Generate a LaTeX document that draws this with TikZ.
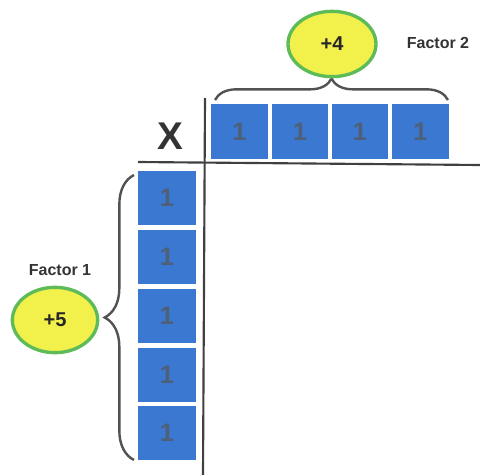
\documentclass[tikz,border=0pt]{standalone}
\usepackage{fontspec}
\setmainfont{Liberation Sans}
\usetikzlibrary{decorations.pathreplacing,shapes.geometric}
\definecolor{tileblue}{HTML}{3B78D2}
\definecolor{tiletext}{HTML}{4E5F78}
\definecolor{ellfill}{HTML}{F2F04A}
\definecolor{ellline}{HTML}{5DBB5A}
\definecolor{inkgray}{HTML}{333333}
\begin{document}
\begin{tikzpicture}[x=0.75pt,y=-0.75pt,
  tile/.style={fill=tileblue,draw=none,minimum width=42.5pt,minimum height=41pt,inner sep=0pt,
    font=\bfseries\fontsize{19}{19}\selectfont,text=tiletext},
  vtile/.style={tile,minimum width=43pt,minimum height=40.5pt},
  oval/.style={ellipse,fill=ellfill,draw=ellline,line width=2.5pt,inner sep=0pt,
    font=\bfseries\fontsize{15}{15}\selectfont,text=black!85},
  lab/.style={font=\bfseries\fontsize{12}{12}\selectfont,text=inkgray},
  axis/.style={draw=gray!50!black,line width=1.6pt},
  br/.style={draw=inkgray!85,line width=1.8pt,decorate}]
\useasboundingbox (0,0) rectangle (480,475);
% axes
\coordinate (hl) at (138,162);
\coordinate (hr) at (480,165);
\coordinate (vt) at (205,98);
\coordinate (vb) at (203,475);
\draw[axis] (hl) -- (hr);
\draw[axis] (vt) -- (vb);
% top tiles
\node[tile] (t1) at (239.5,131.5) {1};
\node[tile] (t2) at (300,131.5) {1};
\node[tile] (t3) at (360,131.5) {1};
\node[tile] (t4) at (420.5,131.5) {1};
% left tiles
\node[vtile] (l1) at (167,198) {1};
\node[vtile] (l2) at (167,257) {1};
\node[vtile] (l3) at (167,315.5) {1};
\node[vtile] (l4) at (167,374.5) {1};
\node[vtile] (l5) at (167,432.5) {1};
% braces
\coordinate (tb1) at (215,100);
\coordinate (tb2) at (448,100);
\draw[br,decoration={brace,amplitude=16pt}] (tb1) -- (tb2);
\coordinate (lb1) at (134,460);
\coordinate (lb2) at (134,175);
\draw[br,decoration={brace,amplitude=22pt}] (lb1) -- (lb2);
% ovals
\node[oval,minimum width=66pt,minimum height=49pt] (f2) at (332,44) {+4};
\node[oval,minimum width=64pt,minimum height=49pt] (f1) at (55,320) {+5};
% labels
\node[lab] (lab2) at (438,43) {Factor 2};
\node[lab] (lab1) at (60,270) {Factor 1};
\node[font=\bfseries\fontsize{29}{29}\selectfont,text=inkgray] (x) at (170,136) {X};
\end{tikzpicture}
\end{document}
